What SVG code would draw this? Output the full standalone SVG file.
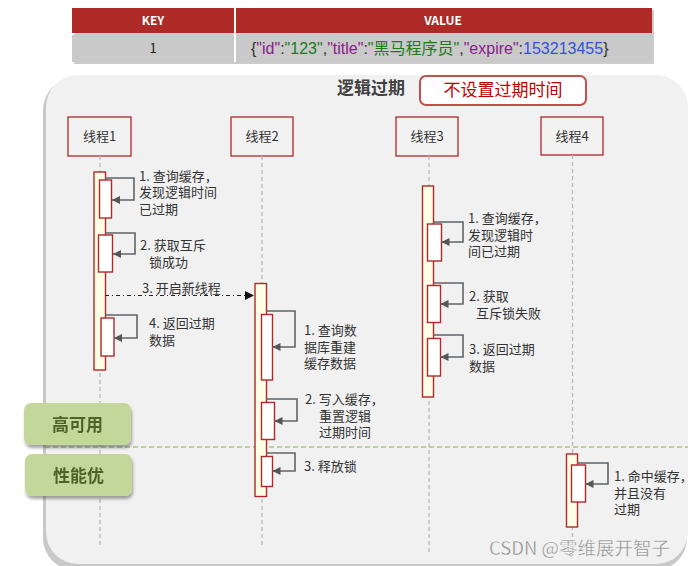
<svg xmlns="http://www.w3.org/2000/svg" width="695" height="566" viewBox="0 0 695 566">
<defs>
<marker id="ah" viewBox="0 0 10 10" refX="10" refY="5" markerWidth="9" markerHeight="8" markerUnits="userSpaceOnUse" orient="auto"><path d="M0,0 L10,5 L0,10 z" fill="#555"/></marker>
<marker id="ahb" viewBox="0 0 10 10" refX="10" refY="5" markerWidth="10" markerHeight="9" markerUnits="userSpaceOnUse" orient="auto"><path d="M0,0 L10,5 L0,10 z" fill="#111"/></marker>
<filter id="sh" x="-10%" y="-10%" width="130%" height="140%"><feDropShadow dx="1" dy="3" stdDeviation="1.5" flood-color="#000" flood-opacity="0.35"/></filter>
</defs>
<style>
text{font-family:"Noto Sans CJK SC","Liberation Sans",sans-serif;}
.msg{font-size:13px;fill:#333;}
.hd{font-size:13px;fill:#333;text-anchor:middle;}
.hbox{fill:#F2F2F2;stroke:#B0282A;stroke-width:1.3;}
.life{stroke:#BBB;stroke-width:1.3;stroke-dasharray:4 3;fill:none;}
.bar{fill:#FFFFE6;stroke:#B0282A;stroke-width:1.4;}
.nest{fill:#FFF;stroke:#B0282A;stroke-width:1.4;}
.loop{fill:none;stroke:#5F6467;stroke-width:1.6;marker-end:url(#ah);}
.badge{fill:#C4D79B;}
.btxt{font-size:17px;font-weight:bold;fill:#4F6228;text-anchor:middle;}
.tv{font-family:"Liberation Sans","Noto Sans CJK SC",sans-serif;font-size:16px;}
</style>
<rect width="695" height="566" fill="#FFF"/>
<g id="table">
<rect x="74" y="10" width="580" height="54" fill="#999" opacity="0.5"/>
<rect x="72" y="8" width="580" height="25" fill="#AE2A27"/>
<rect x="72" y="35" width="580" height="27" fill="#C9C9C9"/>
<line x1="235" y1="8" x2="235" y2="62" stroke="#FFF" stroke-width="2"/>
<text x="153" y="25" font-size="12" font-weight="bold" fill="#FFF" text-anchor="middle" font-family="Liberation Sans,sans-serif">KEY</text>
<text x="443" y="25" font-size="12" font-weight="bold" fill="#FFF" text-anchor="middle" font-family="Liberation Sans,sans-serif">VALUE</text>
<text x="153" y="53" font-size="13" fill="#222" text-anchor="middle" font-family="Liberation Sans,sans-serif">1</text>
<text class="tv" x="251" y="54" fill="#333">{<tspan fill="#8B1A8B">"id"</tspan>:<tspan fill="#1A7A1A">"123"</tspan>,<tspan fill="#8B1A8B">"title"</tspan>:<tspan fill="#1A7A1A">"黑马程序员"</tspan>,<tspan fill="#8B1A8B">"expire"</tspan>:<tspan fill="#3050E0">153213455</tspan>}</text>
</g>
<g id="panel">
<rect x="43" y="78" width="644" height="492" rx="32" fill="#C8C8C8"/>
<rect x="46" y="75" width="642" height="489" rx="32" fill="#F1F1F1"/>
<text x="371" y="94" font-size="17" font-weight="bold" fill="#404040" text-anchor="middle">逻辑过期</text>
</g>
<g id="note">
<rect x="420" y="76" width="166" height="29" rx="6" fill="#FFF" stroke="#C0504D" stroke-width="2"/>
<text x="503" y="96" font-size="17" fill="#C00000" text-anchor="middle">不设置过期时间</text>
</g>
<line x1="45" y1="447" x2="688" y2="447" stroke="#A9C47F" stroke-width="1.3" stroke-dasharray="5 3"/>
<g id="thread1">
<rect class="hbox" x="68" y="117" width="63" height="39"/>
<text class="hd" x="99.5" y="141">线程1</text>
<line class="life" x1="100" y1="156" x2="100" y2="548"/>
<rect class="bar" x="94" y="172" width="11.5" height="198"/>
<rect class="nest" x="99.5" y="180" width="12" height="38"/>
<rect class="nest" x="98.5" y="235" width="14" height="37"/>
<rect class="nest" x="101" y="318" width="13" height="38"/>
<text class="msg" x="139" y="181">1. 查询缓存，</text>
<text class="msg" x="139" y="197">发现逻辑时间</text>
<text class="msg" x="139" y="214">已过期</text>
<text class="msg" x="140" y="250">2. 获取互斥</text>
<text class="msg" x="149" y="267">锁成功</text>
<text class="msg" x="142" y="293">3. 开启新线程</text>
<text class="msg" x="149" y="328">4. 返回过期</text>
<text class="msg" x="149" y="345">数据</text>
</g>
<g id="thread2">
<rect class="hbox" x="231" y="117" width="62" height="39"/>
<text class="hd" x="262" y="141">线程2</text>
<line class="life" x1="262" y1="156" x2="262" y2="548"/>
<rect class="bar" x="255" y="283.5" width="11.5" height="213"/>
<rect class="nest" x="261.5" y="314.5" width="11" height="65.5"/>
<rect class="nest" x="261.5" y="402.5" width="13" height="37"/>
<rect class="nest" x="261.5" y="456.5" width="11" height="30"/>
<text class="msg" x="304" y="335">1. 查询数</text>
<text class="msg" x="304" y="352">据库重建</text>
<text class="msg" x="304" y="368">缓存数据</text>
<text class="msg" x="305" y="404">2. 写入缓存，</text>
<text class="msg" x="319" y="421">重置逻辑</text>
<text class="msg" x="319" y="437">过期时间</text>
<text class="msg" x="304" y="471">3. 释放锁</text>
</g>
<g id="thread3">
<rect class="hbox" x="396" y="117" width="62" height="39"/>
<text class="hd" x="427" y="141">线程3</text>
<line class="life" x1="429" y1="156" x2="429" y2="555"/>
<rect class="bar" x="422.5" y="186" width="11" height="211"/>
<rect class="nest" x="427.5" y="224" width="14" height="37"/>
<rect class="nest" x="427.5" y="285.5" width="13" height="37"/>
<rect class="nest" x="427.5" y="338.5" width="13" height="37.5"/>
<text class="msg" x="468" y="223">1. 查询缓存，</text>
<text class="msg" x="468" y="240">发现逻辑时</text>
<text class="msg" x="468" y="256">间已过期</text>
<text class="msg" x="469" y="301">2. 获取</text>
<text class="msg" x="476" y="318">互斥锁失败</text>
<text class="msg" x="469" y="354">3. 返回过期</text>
<text class="msg" x="469" y="371">数据</text>
</g>
<g id="thread4">
<rect class="hbox" x="541" y="117" width="62" height="38"/>
<text class="hd" x="572" y="141">线程4</text>
<line class="life" x1="572.5" y1="155" x2="572.5" y2="556"/>
<rect class="bar" x="566.5" y="454" width="11" height="73"/>
<rect class="nest" x="571.5" y="465" width="14" height="37"/>
<text class="msg" x="614" y="481">1. 命中缓存，</text>
<text class="msg" x="614" y="498">并且没有</text>
<text class="msg" x="614" y="514">过期</text>
</g>
<g id="connectors">
<path class="loop" d="M105,178 H134 V200 H112"/>
<path class="loop" d="M105,233 H135 V254 H113"/>
<path class="loop" d="M105,315 H137 V338 H114"/>
<path d="M105,295.5 H254" fill="none" stroke="#222" stroke-width="1.2" stroke-dasharray="4 3 1 3" marker-end="url(#ahb)"/>
<path class="loop" d="M266.5,311 H295 V347 H272.5"/>
<path class="loop" d="M266.5,399 H297 V421 H274.5"/>
<path class="loop" d="M266.5,453 H295 V471 H272.5"/>
<path class="loop" d="M433.5,222 H463 V242 H441.5"/>
<path class="loop" d="M433.5,283 H463 V304 H440.5"/>
<path class="loop" d="M433.5,335 H463 V357 H440.5"/>
<path class="loop" d="M577.5,463 H608 V484 H585.5"/>
</g>
<g id="badge-ha" filter="url(#sh)">
<rect class="badge" x="24" y="403" width="107" height="42" rx="7"/>
<text class="btxt" x="77.5" y="431">高可用</text>
</g>
<g id="badge-perf" filter="url(#sh)">
<rect class="badge" x="25" y="454" width="107" height="42" rx="7"/>
<text class="btxt" x="78.5" y="482">性能优</text>
</g>
<text x="489" y="555" font-size="18.5" fill="#8E8E8E" stroke="#FFF" stroke-width="0.3" font-family="Liberation Sans,&quot;Noto Sans CJK SC&quot;,sans-serif">CSDN @零维展开智子</text>
</svg>
